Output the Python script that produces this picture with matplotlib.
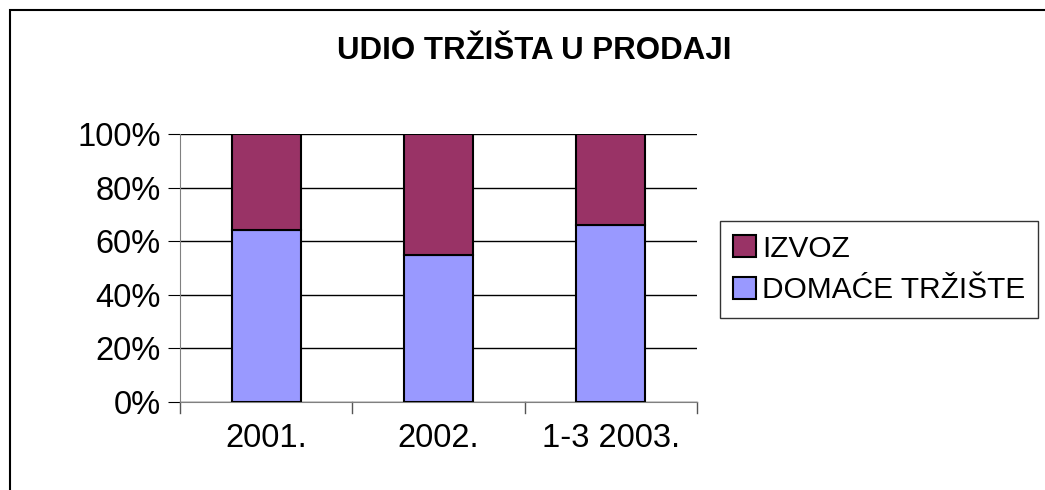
import numpy as np
import matplotlib.pyplot as plt
from matplotlib.patches import Rectangle

plt.rcParams['font.family'] = ['Liberation Sans', 'DejaVu Sans']

# podaci
godine = ["2001.", "2002.", "1-3 2003."]
domace = [64.2, 55.0, 66.2]   # %
izvoz = [100 - d for d in domace]

boja_domace = "#9999FF"
boja_izvoz = "#993366"

fig = plt.figure(figsize=(10.45, 4.9), dpi=100)
ax = fig.add_axes([0.1722, 0.1796, 0.4947, 0.5469])

x = np.arange(len(godine))
b1 = ax.bar(x, domace, width=0.4, color=boja_domace, edgecolor="black", linewidth=1.5,
            label="DOMAĆE TRŽIŠTE", zorder=3)
b2 = ax.bar(x, izvoz, width=0.4, bottom=domace, color=boja_izvoz, edgecolor="black",
            linewidth=1.5, label="IZVOZ", zorder=3)

ax.set_xlim(-0.5, len(godine) - 0.5)
ax.set_ylim(0, 100)
ax.set_yticks(np.arange(0, 101, 20))
ax.set_yticklabels([f"{v}%" for v in range(0, 101, 20)], fontsize=23.5)
ax.set_xticks(x)
ax.set_xticklabels(godine, fontsize=23.5)
ax.tick_params(axis="x", length=0, pad=15)
ax.tick_params(axis="y", length=9, color="black", pad=5)

# granice kategorija na x osi
for gx in np.arange(-0.5, len(godine), 1.0):
    ax.plot([gx, gx], [0, -4], color="#555555", lw=1, clip_on=False, zorder=2)

ax.grid(axis="y", color="black", lw=1, zorder=1)
for s in ["top", "right"]:
    ax.spines[s].set_visible(False)
ax.spines["left"].set_color("#808080")
ax.spines["bottom"].set_color("#808080")
ax.spines["left"].set_zorder(2)

fig.text(0.511, 0.896, "UDIO TRŽIŠTA U PRODAJI", ha="center", va="center",
         fontsize=22.5, fontweight="bold")

leg = fig.legend(handles=[b2, b1], labels=["IZVOZ", "DOMAĆE TRŽIŠTE"],
                 loc="center left", bbox_to_anchor=(0.689, 0.45), fontsize=21.5,
                 frameon=True, fancybox=False, handlelength=0.75, handleheight=0.75,
                 handletextpad=0.2, borderpad=0.45, labelspacing=0.45,
                 borderaxespad=0)
leg.get_frame().set_edgecolor("black")
leg.get_frame().set_linewidth(1)

# okvir grafikona
fig.patches.append(Rectangle((10 / 1045, -0.1), 1.2, 1 - 10 / 490 + 0.1,
                             transform=fig.transFigure, fill=False,
                             edgecolor="black", lw=1.5))

fig.savefig("out.png", dpi=100)
